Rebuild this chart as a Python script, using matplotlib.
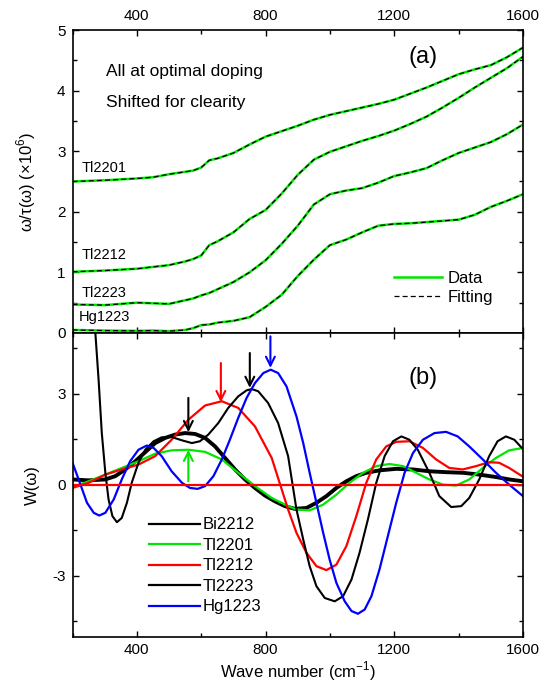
import numpy as np
import matplotlib
matplotlib.use("Agg")
import matplotlib.pyplot as plt
from matplotlib.ticker import MultipleLocator
from matplotlib.lines import Line2D

plt.rcParams['font.family'] = ['Liberation Sans', 'DejaVu Sans']
plt.rcParams['axes.unicode_minus'] = False
plt.rcParams['mathtext.fontset'] = 'custom'
plt.rcParams['mathtext.rm'] = 'Liberation Sans'

GREEN = '#00e600'

# ---- panel (a): omega/tau(omega), shifted, units of 1e6
wave_a = [200, 300, 400, 450, 500, 550, 575, 600, 625, 650, 700, 750, 800, 850, 900,
          950, 1000, 1050, 1100, 1150, 1200, 1250, 1300, 1350, 1400, 1450, 1500,
          1550, 1600]
tl2201_a = [2.50, 2.52, 2.55, 2.57, 2.62, 2.66, 2.68, 2.73, 2.85, 2.88, 2.97, 3.11,
            3.24, 3.33, 3.42, 3.52, 3.60, 3.66, 3.72, 3.78, 3.85, 3.95, 4.05, 4.16,
            4.27, 4.35, 4.42, 4.55, 4.71]
tl2212_a = [1.01, 1.03, 1.06, 1.09, 1.12, 1.18, 1.22, 1.28, 1.45, 1.51, 1.66, 1.88,
            2.03, 2.30, 2.61, 2.86, 2.99, 3.08, 3.17, 3.25, 3.34, 3.45, 3.57, 3.72,
            3.88, 4.05, 4.21, 4.37, 4.56]
tl2223_a = [0.47, 0.46, 0.50, 0.49, 0.48, 0.54, 0.57, 0.62, 0.66, 0.72, 0.84, 1.00,
            1.20, 1.47, 1.77, 2.12, 2.29, 2.35, 2.39, 2.48, 2.59, 2.65, 2.72, 2.85,
            2.97, 3.06, 3.15, 3.28, 3.44]
hg1223_a = [0.05, 0.04, 0.035, 0.04, 0.03, 0.05, 0.08, 0.13, 0.14, 0.17, 0.20, 0.26,
            0.43, 0.63, 0.94, 1.21, 1.45, 1.54, 1.66, 1.77, 1.80, 1.81, 1.83, 1.85,
            1.87, 1.95, 2.08, 2.18, 2.29]
labels_a = ['Tl2201', 'Tl2212', 'Tl2223', 'Hg1223']

# ---- panel (b): W(omega)
bi2212_x = [200, 250, 302, 333, 364, 395, 426, 457, 488, 519, 550, 581, 612, 643, 674,
            705, 736, 767, 798, 829, 860, 891, 927, 958, 989, 1020, 1051, 1082, 1113,
            1154, 1206, 1258, 1309, 1361, 1413, 1464, 1516, 1557, 1600]
bi2212_y = [0.18, 0.15, 0.18, 0.29, 0.51, 0.78, 1.08, 1.38, 1.55, 1.66, 1.71, 1.68,
            1.55, 1.27, 0.89, 0.51, 0.18, -0.10, -0.35, -0.54, -0.70, -0.79, -0.76,
            -0.59, -0.37, -0.10, 0.12, 0.29, 0.40, 0.48, 0.53, 0.51, 0.45, 0.42, 0.40,
            0.34, 0.26, 0.18, 0.12]

tl2201_x = [200, 250, 302, 353, 405, 457, 508, 560, 612, 664, 715, 767, 819, 870, 896,
            937, 979, 1020, 1061, 1103, 1144, 1185, 1227, 1268, 1309, 1351, 1392, 1433,
            1475, 1516, 1557, 1600]
tl2201_y = [-0.07, 0.12, 0.34, 0.56, 0.78, 1.03, 1.14, 1.16, 1.09, 0.84, 0.40, -0.04,
            -0.43, -0.70, -0.81, -0.84, -0.65, -0.32, 0.07, 0.40, 0.62, 0.69, 0.62,
            0.40, 0.18, 0.01, -0.02, 0.18, 0.56, 0.89, 1.14, 1.22]

tl2212_x = [200, 250, 302, 353, 405, 457, 508, 560, 612, 664, 715, 767, 819, 870, 896,
            927, 958, 989, 1020, 1051, 1082, 1113, 1144, 1175, 1206, 1247, 1289, 1330,
            1371, 1413, 1454, 1495, 1526, 1557, 1600]
tl2212_y = [-0.10, 0.07, 0.34, 0.51, 0.67, 0.95, 1.49, 2.15, 2.62, 2.76, 2.54, 1.93,
            0.89, -0.81, -1.58, -2.24, -2.68, -2.81, -2.63, -2.02, -1.03, 0.07, 0.84,
            1.27, 1.42, 1.44, 1.22, 0.84, 0.56, 0.51, 0.62, 0.75, 0.73, 0.56, 0.27]

tl2223_x = [271, 281, 291, 302, 312, 324, 338, 353, 369, 384, 405, 426, 452, 477, 508,
            540, 571, 596, 622, 653, 684, 715, 741, 757, 777, 808, 839, 870, 896, 917,
            937, 958, 984, 1015, 1041, 1067, 1092, 1118, 1144, 1170, 1196, 1222, 1247,
            1273, 1309, 1340, 1377, 1408, 1433, 1464, 1495, 1521, 1547, 1573, 1600]
tl2223_y = [5.01, 3.47, 1.71, 0.40, -0.48, -1.03, -1.23, -1.09, -0.59, 0.07, 0.73,
            1.16, 1.44, 1.57, 1.58, 1.47, 1.38, 1.44, 1.66, 2.04, 2.54, 2.92, 3.12,
            3.16, 3.09, 2.70, 2.04, 0.95, -0.81, -1.80, -2.68, -3.34, -3.73, -3.84,
            -3.67, -3.12, -2.24, -1.14, 0.07, 0.95, 1.44, 1.60, 1.49, 1.16, 0.40,
            -0.37, -0.73, -0.70, -0.43, 0.18, 0.95, 1.44, 1.60, 1.49, 1.18]

hg1223_x = [200, 219, 245, 266, 283, 302, 328, 353, 379, 405, 431, 452, 477, 508, 540,
            565, 589, 612, 638, 664, 689, 715, 741, 767, 793, 816, 839, 865, 896, 917,
            937, 958, 979, 999, 1020, 1046, 1067, 1087, 1108, 1129, 1154, 1180, 1206,
            1232, 1258, 1289, 1325, 1361, 1397, 1433, 1475, 1516, 1557, 1600]
hg1223_y = [0.73, 0.18, -0.59, -0.92, -1.01, -0.92, -0.48, 0.18, 0.78, 1.16, 1.30,
            1.22, 0.95, 0.45, 0.07, -0.10, -0.13, -0.04, 0.29, 0.84, 1.49, 2.21, 2.87,
            3.36, 3.69, 3.80, 3.69, 3.25, 2.26, 1.38, 0.40, -0.59, -1.58, -2.46, -3.23,
            -3.84, -4.16, -4.25, -4.11, -3.67, -2.79, -1.69, -0.59, 0.40, 1.05, 1.49,
            1.71, 1.75, 1.60, 1.27, 0.84, 0.40, 0.01, -0.37]
labels_b = ['Bi2212', 'Tl2201', 'Tl2212', 'Tl2223', 'Hg1223']
colors_b = ['black', GREEN, 'red', 'black', 'blue']

# arrows: x, tail y, head y, colour
arrow_x = [560, 560, 661, 751, 815]
arrow_tail = [2.87, 0.12, 4.02, 4.35, 4.90]
arrow_head = [1.74, 1.16, 2.73, 3.20, 3.86]
arrow_col = ['black', GREEN, 'red', 'black', 'blue']


def style_axis(ax, ymajor, yminor):
    ax.set_xlim(200, 1600)
    ax.xaxis.set_major_locator(MultipleLocator(400))
    ax.xaxis.set_minor_locator(MultipleLocator(200))
    ax.yaxis.set_major_locator(MultipleLocator(ymajor))
    ax.yaxis.set_minor_locator(MultipleLocator(yminor))
    ax.tick_params(which='both', direction='in', top=True, right=True,
                   labelsize=11, width=1.0, pad=5)
    ax.tick_params(which='major', length=4)
    ax.tick_params(which='minor', length=3)
    for s in ax.spines.values():
        s.set_linewidth(1.2)


fig = plt.figure(figsize=(5.4, 6.85), dpi=100)
ax1 = fig.add_axes([0.1343, 0.5139, 0.8342, 0.4423])
ax2 = fig.add_axes([0.1343, 0.0708, 0.8342, 0.4426])

# ---- (a)
for ys in [tl2201_a, tl2212_a, tl2223_a, hg1223_a]:
    ax1.plot(wave_a, ys, color=GREEN, lw=1.8)
    ax1.plot(wave_a, ys, color='black', lw=0.9, linestyle=(0, (4, 2.5)))
style_axis(ax1, 1, 0.5)
ax1.set_ylim(0, 5)
ax1.tick_params(labeltop=True, labelbottom=False)
ax1.set_ylabel(r'ω/τ(ω) (×10$^6$)', fontsize=12, va='center')
ax1.yaxis.set_label_coords(-0.102, 0.5)

label_pos = [(228, 2.73), (228, 1.28), (228, 0.667), (218, 0.264)]
for name, (lx, ly) in zip(labels_a, label_pos):
    ax1.text(lx, ly, name, fontsize=10.5, va='center', ha='left')
ax1.text(304, 4.32, 'All at optimal doping', fontsize=12.5, va='center')
ax1.text(304, 3.81, 'Shifted for clearity', fontsize=12.5, va='center')
ax1.text(1243, 4.55, '(a)', fontsize=17, va='center')

h_a = [Line2D([], [], color=GREEN, lw=1.8),
       Line2D([], [], color='black', lw=0.9, linestyle=(0, (4, 2.5)))]
ax1.legend(h_a, ['Data', 'Fitting'], loc='upper left', bbox_to_anchor=(0.714, 0.205),
           frameon=False, fontsize=12, handlelength=2.9, handletextpad=0.3,
           borderpad=0, borderaxespad=0, labelspacing=0.25)

# ---- (b)
series_b = [(bi2212_x, bi2212_y, 2.8), (tl2201_x, tl2201_y, 1.6),
            (tl2212_x, tl2212_y, 1.6), (tl2223_x, tl2223_y, 1.5),
            (hg1223_x, hg1223_y, 1.6)]
for (xs, ys, lw), c in zip(series_b, colors_b):
    ax2.plot(xs, ys, color=c, lw=lw)
ax2.axhline(0, color='red', lw=1.6)
for x, t, h, c in zip(arrow_x, arrow_tail, arrow_head, arrow_col):
    ax2.annotate('', xy=(x, h), xytext=(x, t),
                 arrowprops=dict(arrowstyle='->', color=c, lw=1.5,
                                 mutation_scale=16, shrinkA=0, shrinkB=0))
style_axis(ax2, 3, 1.5)
ax2.set_ylim(-5, 5)
ax2.set_ylabel('W(ω)', fontsize=12, va='center')
ax2.yaxis.set_label_coords(-0.089, 0.5)
ax2.set_xlabel('Wave number (cm$^{-1}$)', fontsize=12, va='center')
ax2.xaxis.set_label_coords(0.5, -0.115)
ax2.text(1243, 3.53, '(b)', fontsize=17, va='center')

h_b = [Line2D([], [], color=c, lw=1.6) for c in colors_b]
ax2.legend(h_b, labels_b, loc='upper left', bbox_to_anchor=(0.17, 0.393),
           frameon=False, fontsize=12, handlelength=3.05, handletextpad=0.15,
           borderpad=0, borderaxespad=0, labelspacing=0.33)

fig.savefig('out.png', dpi=100)
